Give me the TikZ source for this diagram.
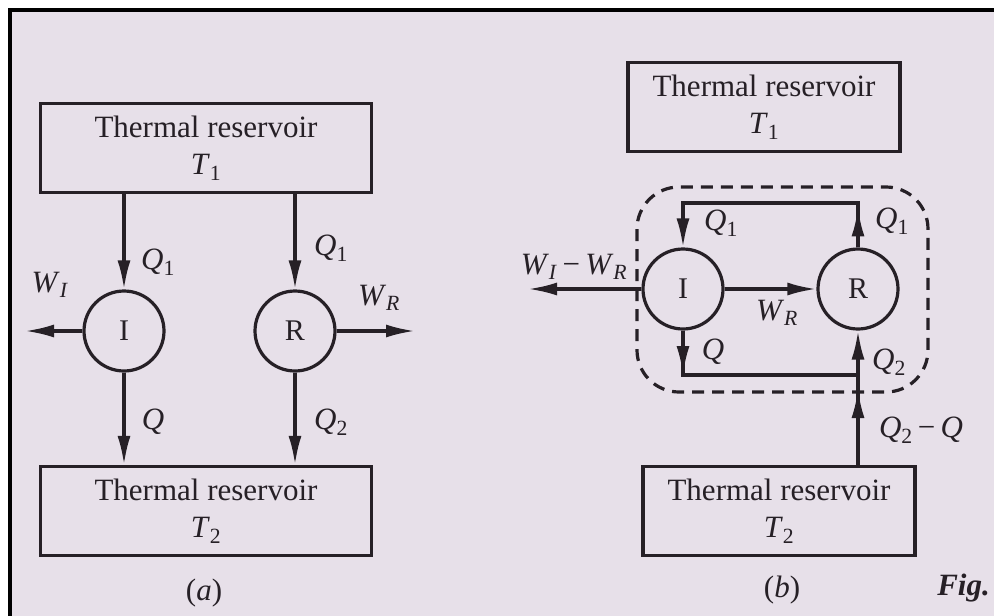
\documentclass[tikz,border=0pt]{standalone}
\usepackage{fontspec}
\setmainfont{Liberation Serif}
\usetikzlibrary{arrows.meta}
\definecolor{paper}{RGB}{231,224,233}
\definecolor{ink}{RGB}{38,32,38}
\newcommand{\qsub}[2]{\textit{#1}\textsubscript{#2}}

\begin{document}
\begin{tikzpicture}[x=1pt,y=-1pt,
  every node/.style={font=\fontsize{31}{37}\selectfont, text=ink},
  res/.style={draw=ink, line width=3.2pt, align=center, minimum width=331pt, minimum height=89pt, inner sep=0pt},
  eng/.style={draw=ink, circle, line width=3.2pt, minimum size=80pt, inner sep=0pt, font=\fontsize{30}{34}\selectfont},
  flow/.style={draw=ink, line width=3.2pt, -{Latex[length=29pt,width=13pt]}},
  pipe/.style={draw=ink, line width=3.2pt},
  lbl/.style={inner sep=0pt}]
\useasboundingbox (0,0) rectangle (994,616);
\fill[white] (0,0) rectangle (994,616);
\fill[paper] (10,10) rectangle (994,616);
\draw[line width=4pt] (10,616) -- (10,10) -- (994,10);

% (a)
\node[res] (hotA) at (206,148) {Thermal reservoir\\\qsub{T}{1}};
\node[res] (coldA) at (206,511) {Thermal reservoir\\\qsub{T}{2}};
\node[eng] (irrA) at (124,331) {I};
\node[eng] (revA) at (295,331) {R};
\coordinate (wiA) at (25,331);
\coordinate (wrA) at (415,331);
\draw[flow] (irrA |- hotA.south) -- (irrA.north);
\draw[flow] (revA |- hotA.south) -- (revA.north);
\draw[flow] (irrA.west) -- (wiA);
\draw[flow] (revA.east) -- (wrA);
\draw[flow] (irrA.south) -- (irrA |- coldA.north);
\draw[flow] (revA.south) -- (revA |- coldA.north);
\node[lbl] (q1A) at (158,262) {\qsub{Q}{1}};
\node[lbl] (q1RA) at (331,248) {\qsub{Q}{1}};
\node[lbl] (wIA) at (50,285) {\qsub{W}{\textit{I}}};
\node[lbl] (wRA) at (379,298) {\qsub{W}{\textit{R}}};
\node[lbl] (qA) at (153,422) {\textit{Q}};
\node[lbl] (q2A) at (331,422) {\qsub{Q}{2}};
\node[lbl] (capA) at (204,593) {(\textit{a})};

% (b)
\node[res, minimum width=272pt] (hotB) at (764,107) {Thermal reservoir\\\qsub{T}{1}};
\node[res, minimum width=272pt] (coldB) at (779,511) {Thermal reservoir\\\qsub{T}{2}};
\node[eng] (irrB) at (683,289) {I};
\node[eng] (revB) at (858,289) {R};
\coordinate (topI) at (683,203);
\coordinate (topR) at (858,203);
\coordinate (botI) at (683,375);
\coordinate (botR) at (858,375);
\coordinate (crossR) at (858,389);
\coordinate (wB) at (528,289);
\draw[pipe, dash pattern=on 12pt off 8pt, rounded corners=42pt] (637,187) rectangle (928,392);
\draw[flow] (revB.north) -- (topR) -- (topI) -- (irrB.north);
\draw[flow] (revB.north) -- ++(0,-40);
\draw[pipe] (irrB.south) -- (botI) -- (botR);
\draw[flow] (irrB.south) -- (botI);
\draw[flow] (revB |- coldB.north) -- (revB.south);
\draw[flow] (revB |- coldB.north) -- (crossR);
\draw[flow] (irrB.east) -- (revB.west);
\draw[flow] (irrB.west) -- (wB);
\node[lbl] (q1B) at (721,223) {\qsub{Q}{1}};
\node[lbl] (q1RB) at (892,221) {\qsub{Q}{1}};
\node[lbl] (wIRB) at (574,267) {\qsub{W}{\textit{I}}\,−\,\qsub{W}{\textit{R}}};
\node[lbl] (wRB) at (777,313) {\qsub{W}{\textit{R}}};
\node[lbl] (qB) at (713,352) {\textit{Q}};
\node[lbl] (q2B) at (889,362) {\qsub{Q}{2}};
\node[lbl] (q2qB) at (921,430) {\qsub{Q}{2}\,−\,\textit{Q}};
\node[lbl] (capB) at (782,590) {(\textit{b})};
\node[lbl, anchor=east] (fig) at (990,588) {\textbf{\textit{Fig.}}};
\end{tikzpicture}
\end{document}
